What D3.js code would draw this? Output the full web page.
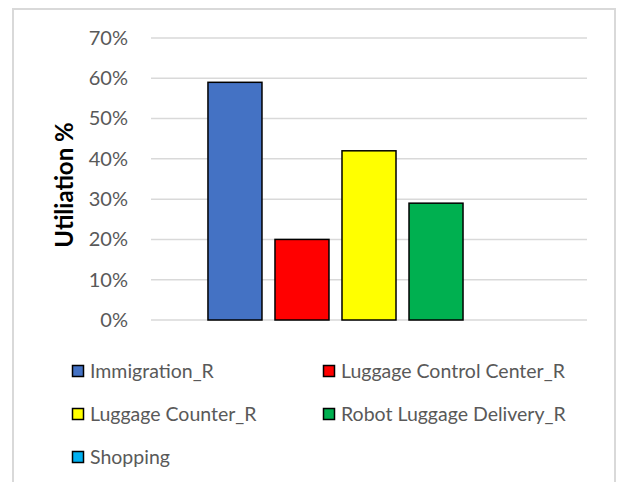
<!DOCTYPE html>
<html>
<head>
<meta charset="utf-8">
<script src="https://cdn.jsdelivr.net/npm/d3@7/dist/d3.min.js"></script>
<style>
  html, body { margin: 0; padding: 0; background: #fff; }
  svg { display: block; }
  text { font-family: Lato, "Open Sans", sans-serif; }
</style>
</head>
<body>
<svg id="chart" width="617" height="482"></svg>
<script>
// Utilisation per resource
const series = ["Immigration_R", "Luggage Control Center_R", "Luggage Counter_R", "Robot Luggage Delivery_R", "Shopping"];
const values = [0.59, 0.20, 0.42, 0.29, 0];
const colors = ["#4472c4", "#ff0000", "#ffff00", "#00b050", "#00b0f0"];
const yTicks = [0, 0.1, 0.2, 0.3, 0.4, 0.5, 0.6, 0.7];
const yTitle = "Utiliation %";

const svg = d3.select("#chart");

// outer frame (open at the bottom edge of the page)
svg.append("path")
  .attr("d", "M13,482 V9 H615 V482")
  .attr("fill", "none")
  .attr("stroke", "#d9d9d9")
  .attr("stroke-width", 2);

const plot = { left: 151, right: 587, top: 38, bottom: 320 };

const y = d3.scaleLinear().domain([0, 0.7]).range([plot.bottom, plot.top]);
const x = d3.scaleBand().domain(series)
  .range([plot.left, plot.right])
  .paddingInner(0.194)
  .paddingOuter(0.85);

// gridlines
svg.append("g")
  .selectAll("line")
  .data(yTicks)
  .join("line")
  .attr("x1", plot.left).attr("x2", plot.right)
  .attr("y1", d => y(d)).attr("y2", d => y(d))
  .attr("stroke", "#d9d9d9")
  .attr("stroke-width", 1.5);

// y axis labels
const yAxis = d3.axisLeft(y).tickValues(yTicks).tickFormat(d3.format(".0%")).tickSize(0).tickPadding(0);
const ya = svg.append("g").attr("transform", "translate(128,0)").call(yAxis);
ya.select(".domain").remove();
ya.selectAll("text")
  .attr("fill", "#595959")
  .style("font-size", "20px")
  .style("font-family", "Lato, 'Open Sans', sans-serif");

// bars
svg.append("g")
  .selectAll("rect")
  .data(series.map((s, i) => ({ s, v: values[i], c: colors[i] })))
  .join("rect")
  .attr("x", d => x(d.s))
  .attr("y", d => y(d.v))
  .attr("width", x.bandwidth())
  .attr("height", d => y(0) - y(d.v))
  .attr("fill", d => d.c)
  .attr("stroke", "#000")
  .attr("stroke-width", 1.5);

// y axis title
svg.append("text")
  .attr("transform", "translate(73,185) rotate(-90)")
  .attr("text-anchor", "middle")
  .attr("font-weight", "bold")
  .attr("fill", "#000")
  .style("font-size", "24px")
  .text(yTitle);

// legend
const legendPos = [
  [72, 371], [323, 371],
  [72, 414], [323, 414],
  [72, 457]
];
const lg = svg.append("g")
  .selectAll("g")
  .data(series.map((s, i) => ({ s, c: colors[i], p: legendPos[i] })))
  .join("g")
  .attr("transform", d => `translate(${d.p[0]},${d.p[1]})`);
lg.append("rect")
  .attr("x", 0.5).attr("y", -5.5)
  .attr("width", 11).attr("height", 11)
  .attr("fill", d => d.c)
  .attr("stroke", "#000")
  .attr("stroke-width", 1.5);
lg.append("text")
  .attr("x", 18).attr("y", 0)
  .attr("dy", "0.35em")
  .attr("fill", "#595959")
  .style("font-size", "19.5px")
  .text(d => d.s);
</script>
</body>
</html>
